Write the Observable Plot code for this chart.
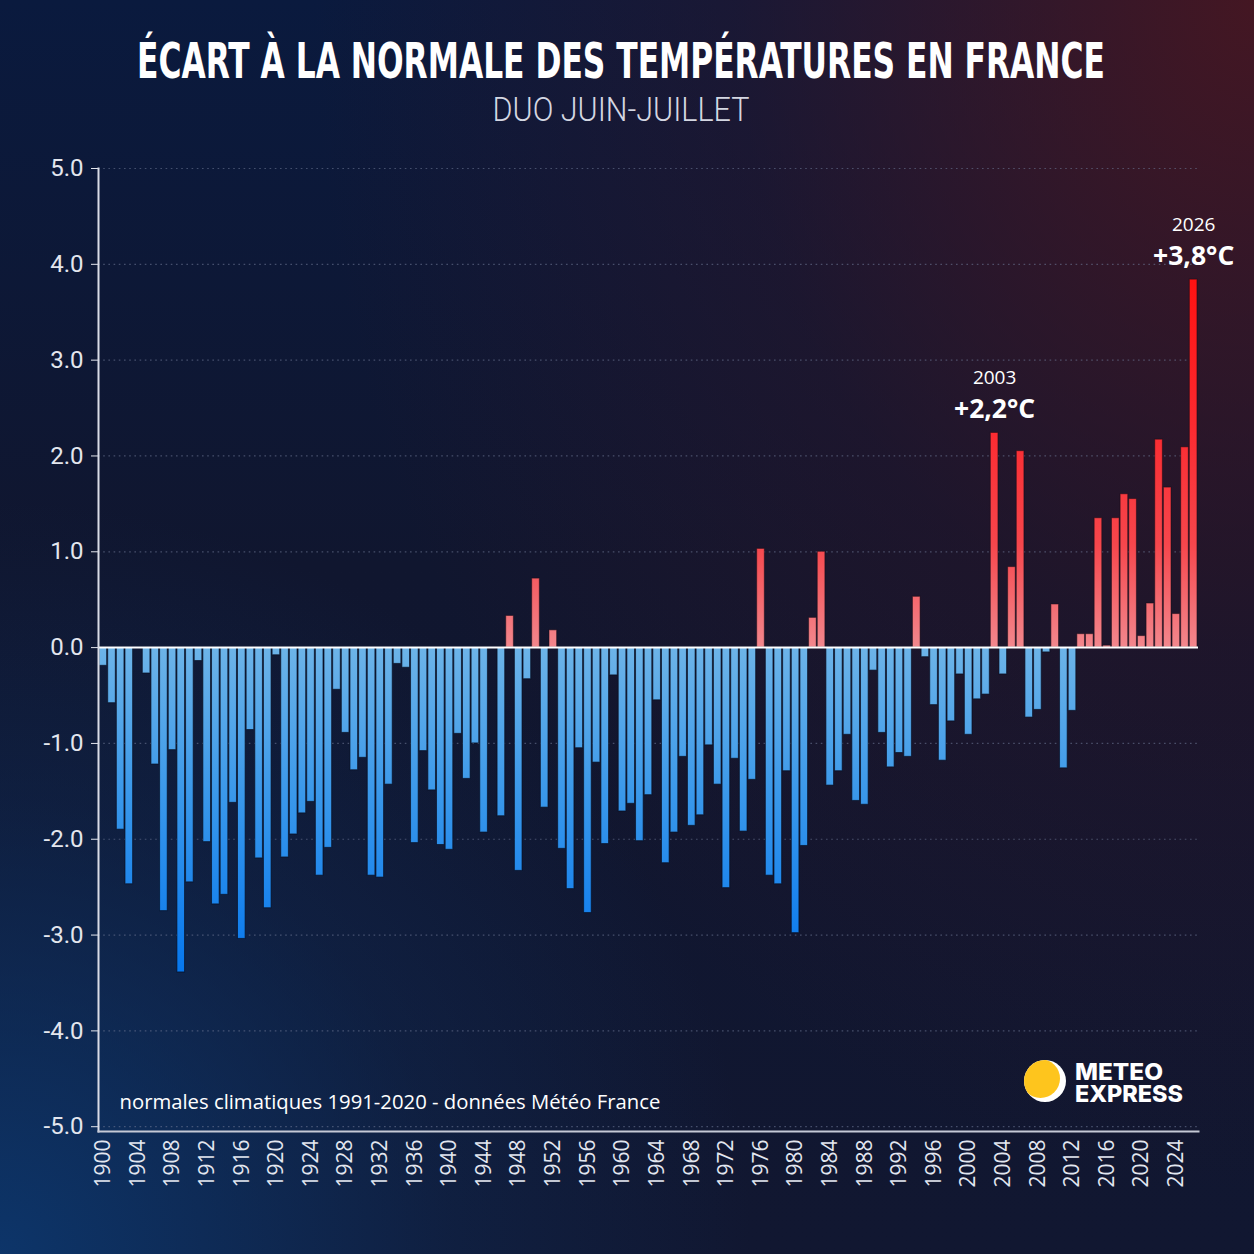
<!DOCTYPE html>
<html>
<head>
<meta charset="utf-8">
<script src="https://cdn.jsdelivr.net/npm/d3@7"></script>
<script src="https://cdn.jsdelivr.net/npm/@observablehq/plot@0.6"></script>
<style>
html, body { margin: 0; padding: 0; background: #0d1632; }
body { width: 1254px; height: 1254px; overflow: hidden; }
#wrap {
  position: relative; width: 1254px; height: 1254px; overflow: hidden;
  background:
    radial-gradient(ellipse 75% 95% at 100% 0%, rgba(78,22,30,0.85), rgba(55,20,35,0.35) 55%, rgba(40,20,40,0) 100%),
    radial-gradient(ellipse 60% 60% at 0% 100%, rgba(12,58,115,0.85), rgba(12,50,100,0.3) 60%, rgba(12,40,90,0) 100%),
    linear-gradient(180deg, #0a1a3e 0%, #10162f 45%, #111731 100%);
}
#header { position: absolute; left: 0; top: 0; }
#chart { position: absolute; left: 0; top: 140px; }
#logo { position: absolute; left: 1020px; top: 1055px; }
</style>
</head>
<body>
<div id="wrap">
  <svg id="header" width="1254" height="140">
    <text id="title" x="621" y="78" text-anchor="middle" fill="#ffffff"
      style="font-family:'Liberation Sans Narrow','DejaVu Sans Condensed',Roboto,sans-serif;font-weight:700;font-size:50px;">ÉCART À LA NORMALE DES TEMPÉRATURES EN FRANCE</text>
    <text id="subtitle" x="621" y="121" text-anchor="middle" fill="#d4d7e2"
      style="font-family:Roboto,'Liberation Sans Narrow',sans-serif;font-weight:300;font-size:34px;">DUO JUIN-JUILLET</text>
  </svg>
  <div id="chart"></div>
  <svg id="logo" width="200" height="60">
    <defs><clipPath id="logoClip"><circle cx="25" cy="26" r="21"/></clipPath></defs>
    <circle cx="25" cy="26" r="21" fill="#ffffff"/>
    <circle cx="20.5" cy="23.5" r="19.5" fill="#fec51d" clip-path="url(#logoClip)"/>
    <text fill="#ffffff" style="font-family:Inter,'Open Sans',sans-serif;font-weight:800;font-size:23px;">
      <tspan x="55" y="25" textLength="88" lengthAdjust="spacingAndGlyphs">METEO</tspan>
      <tspan x="55" y="47" textLength="108" lengthAdjust="spacingAndGlyphs">EXPRESS</tspan>
    </text>
  </svg>
</div>
<script>
// ---- data ----
const years = d3.range(1900, 2027);
const anomalies = [
  -0.19, -0.58, -1.90, -2.47, 0.00, -0.27, -1.22, -2.75, -1.07, -3.39,   // 1900-1909
  -2.45, -0.14, -2.03, -2.68, -2.58, -1.62, -3.04, -0.86, -2.20, -2.72,  // 1910-1919
  -0.08, -2.19, -1.95, -1.73, -1.61, -2.38, -2.09, -0.44, -0.89, -1.28,  // 1920-1929
  -1.15, -2.38, -2.40, -1.43, -0.17, -0.21, -2.04, -1.08, -1.49, -2.06,  // 1930-1939
  -2.11, -0.90, -1.37, -1.00, -1.93, 0.00, -1.76, 0.33, -2.33, -0.33,    // 1940-1949
  0.72, -1.67, 0.18, -2.10, -2.52, -1.05, -2.77, -1.20, -2.05, -0.29,    // 1950-1959
  -1.71, -1.63, -2.02, -1.54, -0.55, -2.25, -1.93, -1.14, -1.86, -1.75,  // 1960-1969
  -1.02, -1.43, -2.51, -1.16, -1.92, -1.38, 1.03, -2.38, -2.47, -1.29,   // 1970-1979
  -2.98, -2.07, 0.31, 1.00, -1.44, -1.29, -0.91, -1.60, -1.64, -0.24,    // 1980-1989
  -0.89, -1.25, -1.10, -1.14, 0.53, -0.10, -0.60, -1.18, -0.77, -0.28,   // 1990-1999
  -0.91, -0.54, -0.49, 2.24, -0.28, 0.84, 2.05, -0.73, -0.65, -0.05,     // 2000-2009
  0.45, -1.26, -0.66, 0.14, 0.14, 1.35, 0.02, 1.35, 1.60, 1.55,          // 2010-2019
  0.12, 0.46, 2.17, 1.67, 0.35, 2.09, 3.84                               // 2020-2026
];
const xTickYears = d3.range(1900, 2027, 4);
const yTicks = d3.range(-5, 6, 1);
const annotationYears = [2003, 2026];
const annotationLabels = ["+2,2°C", "+3,8°C"];
const caption = "normales climatiques 1991-2020 - données Météo France";

const data = years.map((year, i) => ({year, value: anomalies[i]}));
const annotations = annotationYears.map((year, i) => ({
  year, label: annotationLabels[i], value: anomalies[years.indexOf(year)]
}));

const plot = Plot.plot({
  width: 1254,
  height: 1114,
  marginLeft: 98,
  marginRight: 56,
  marginTop: 28,
  marginBottom: 123,
  style: {background: "transparent", overflow: "visible"},
  x: {type: "band", domain: years, padding: 0.12, axis: null},
  y: {domain: [-5.05, 5], axis: null},
  marks: [
    Plot.ruleY(yTicks.filter(d => d !== 0), {stroke: "#6b7593", strokeOpacity: 0.6, strokeDasharray: "1.6,3.6", strokeWidth: 1.2}),
    Plot.barY(data.filter(d => d.value < 0), {x: "year", y1: 0, y2: "value", fill: "url(#negGrad)", stroke: "#060c1e", strokeOpacity: 0.65, strokeWidth: 1}),
    Plot.barY(data.filter(d => d.value > 0), {x: "year", y1: 0, y2: "value", fill: "url(#posGrad)", stroke: "#160a14", strokeOpacity: 0.5, strokeWidth: 1}),
    Plot.ruleY([0], {stroke: "#ffffff", strokeWidth: 2}),
    Plot.axisY({ticks: yTicks, tickFormat: d => d.toFixed(1), tickSize: 7, tickPadding: 8, label: null,
      fontSize: 24, fontFamily: "Roboto, sans-serif", color: "#e3e6ee"}),
    Plot.axisX({ticks: xTickYears, tickFormat: d => String(d), tickRotate: -90, tickSize: 0, tickPadding: 8, label: null,
      fontSize: 21, fontFamily: "'Open Sans', 'Noto Sans', sans-serif", color: "#e3e7f0"}),
    Plot.frame({anchor: "left", stroke: "#d9dce6", strokeWidth: 2}),
    Plot.frame({anchor: "bottom", stroke: "#c5c9d6", strokeWidth: 2}),
    Plot.text(annotations, {x: "year", y: "value", text: d => String(d.year), dy: -55,
      fontSize: 19, fill: "#ffffff", fontFamily: "'Open Sans', sans-serif"}),
    Plot.text(annotations, {x: "year", y: "value", text: "label", dy: -23,
      fontSize: 26.5, fontWeight: 700, fill: "#ffffff", fontFamily: "'Open Sans', sans-serif"}),
    Plot.text([caption], {frameAnchor: "bottom-left", dx: 21, dy: -23, textAnchor: "start",
      fontSize: 20.3, fill: "#ffffff", fontFamily: "'Open Sans', sans-serif"})
  ]
});

// gradients in user space so colour depends on the value height
const y = plot.scale("y");
const svg = d3.select(plot);
const defs = svg.insert("defs", ":first-child");
const neg = defs.append("linearGradient").attr("id", "negGrad").attr("gradientUnits", "userSpaceOnUse")
  .attr("x1", 0).attr("x2", 0).attr("y1", y.apply(0)).attr("y2", y.apply(-3.4));
[[0, "#6db4e8"], [0.45, "#3a98ea"], [1, "#0677ee"]].forEach(([o, c]) =>
  neg.append("stop").attr("offset", o).attr("stop-color", c));
const pos = defs.append("linearGradient").attr("id", "posGrad").attr("gradientUnits", "userSpaceOnUse")
  .attr("x1", 0).attr("x2", 0).attr("y1", y.apply(0)).attr("y2", y.apply(3.84));
[[0, "#f2878d"], [0.28, "#f6464c"], [0.6, "#fb2a30"], [1, "#ff1212"]].forEach(([o, c]) =>
  pos.append("stop").attr("offset", o).attr("stop-color", c));

document.getElementById("chart").appendChild(plot);

// fit header texts to reference widths (condensed look)
function fit(id, target, cx) {
  const el = document.getElementById(id);
  const w = el.getComputedTextLength();
  const s = target / w;
  el.setAttribute("transform", `translate(${cx},0) scale(${s},1) translate(${-cx},0)`);
}
fit("title", 968, 621);
fit("subtitle", 257, 621);
</script>
</body>
</html>
